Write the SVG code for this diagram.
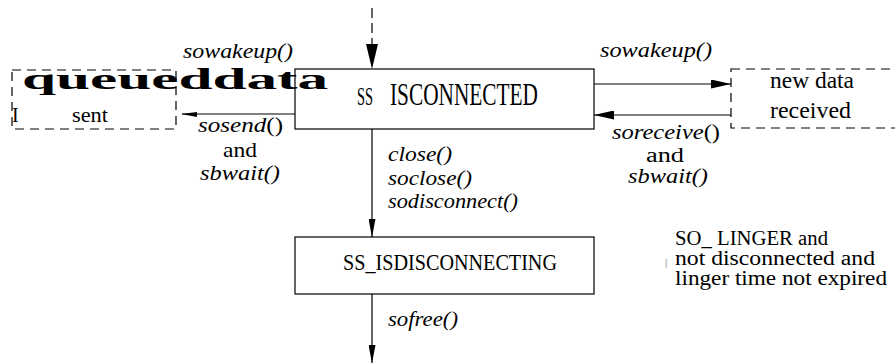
<svg xmlns="http://www.w3.org/2000/svg" width="895" height="364" viewBox="0 0 895 364">
<style>
.box{fill:#fff;stroke:#000;stroke-width:1.2}
.dbox{fill:none;stroke:#000;stroke-width:1.2;stroke-dasharray:9,6}
.ln{stroke:#000;stroke-width:1.2;fill:none}
.i{font-style:italic}
.s{font-family:"Liberation Serif","Times New Roman",serif}
</style>
<defs>
<marker id="ah" markerUnits="userSpaceOnUse" markerWidth="20" markerHeight="9" refX="20" refY="4.5" orient="auto">
<path d="M0,0 L20,4.5 L0,9 z" fill="#000"/>
</marker>
<marker id="ahs" markerUnits="userSpaceOnUse" markerWidth="18" markerHeight="7" refX="18" refY="3.5" orient="auto">
<path d="M0,0 L18,3.5 L0,7 z" fill="#000"/>
</marker>
</defs>
<g id="connectors">
<line class="ln" x1="372" y1="8" x2="372" y2="46" stroke-dasharray="10,5"/>
<polygon points="366,44 378,44 372,69" fill="#000"/>
<line class="ln" x1="295" y1="114" x2="182" y2="114"/>
<polygon points="181,114 197,112 197,117" fill="#000"/>
<line class="ln" x1="594" y1="84" x2="731" y2="84" marker-end="url(#ah)"/>
<line class="ln" x1="731" y1="115" x2="594" y2="115" marker-end="url(#ah)"/>
<line class="ln" x1="372" y1="129" x2="372" y2="237" marker-end="url(#ahs)"/>
<line class="ln" x1="372" y1="294" x2="372" y2="363" marker-end="url(#ahs)"/>
</g>
<g id="isconnected" class="s">
<rect class="box" x="295" y="69" width="299" height="60"/>
<text x="357" y="105" font-size="26" textLength="16" lengthAdjust="spacingAndGlyphs">SS</text>
<text x="390" y="105" font-size="31" textLength="148" lengthAdjust="spacingAndGlyphs">ISCONNECTED</text>
</g>
<g id="queued-data" class="s">
<rect class="dbox" x="12" y="70" width="164" height="59"/>
<text x="22" y="89" font-size="29" font-weight="bold" textLength="306" lengthAdjust="spacingAndGlyphs">queueddata</text>
<text x="12" y="122" font-size="20">I</text>
<text x="72" y="122" font-size="21" textLength="36" lengthAdjust="spacingAndGlyphs">sent</text>
</g>
<g id="new-data" class="s">
<rect class="dbox" x="731" y="69" width="175" height="59"/>
<text x="770" y="88" font-size="23" textLength="84" lengthAdjust="spacingAndGlyphs">new data</text>
<text x="770" y="118" font-size="23" textLength="81" lengthAdjust="spacingAndGlyphs">received</text>
</g>
<g id="isdisconnecting" class="s">
<rect class="box" x="295" y="237" width="299" height="57"/>
<text x="343" y="270" font-size="23" textLength="214" lengthAdjust="spacingAndGlyphs">SS_ISDISCONNECTING</text>
</g>
<g id="labels" class="s">
<text class="i" x="183" y="58" font-size="22" textLength="110" lengthAdjust="spacingAndGlyphs">sowakeup()</text>
<text class="i" x="600" y="57" font-size="22" textLength="112" lengthAdjust="spacingAndGlyphs">sowakeup()</text>
<text x="198" y="132" font-size="22" textLength="85" lengthAdjust="spacingAndGlyphs"><tspan font-style="italic">sosend</tspan>()</text>
<text x="223" y="157" font-size="21" textLength="34" lengthAdjust="spacingAndGlyphs">and</text>
<text class="i" x="200" y="180" font-size="21" textLength="80" lengthAdjust="spacingAndGlyphs">sbwait()</text>
<text x="612" y="139" font-size="22" textLength="108" lengthAdjust="spacingAndGlyphs"><tspan font-style="italic">soreceive</tspan>()</text>
<text x="646" y="162" font-size="20" textLength="38" lengthAdjust="spacingAndGlyphs">and</text>
<text class="i" x="628" y="183" font-size="21" textLength="80" lengthAdjust="spacingAndGlyphs">sbwait()</text>
<text class="i" x="388" y="161" font-size="22" textLength="64" lengthAdjust="spacingAndGlyphs">close()</text>
<text class="i" x="388" y="185" font-size="22" textLength="84" lengthAdjust="spacingAndGlyphs">soclose()</text>
<text class="i" x="388" y="208" font-size="22" textLength="130" lengthAdjust="spacingAndGlyphs">sodisconnect()</text>
<text class="i" x="388" y="326" font-size="22" textLength="70" lengthAdjust="spacingAndGlyphs">sofree()</text>
</g>
<g id="linger-note" class="s">
<text x="675" y="245" font-size="20" textLength="153" lengthAdjust="spacingAndGlyphs">SO_ LINGER and</text>
<text x="665" y="266" font-size="11" fill="#666">|</text>
<text x="675" y="265" font-size="20" textLength="200" lengthAdjust="spacingAndGlyphs">not disconnected and</text>
<text x="675" y="285" font-size="20" textLength="212" lengthAdjust="spacingAndGlyphs">linger time not expired</text>
</g>
</svg>
